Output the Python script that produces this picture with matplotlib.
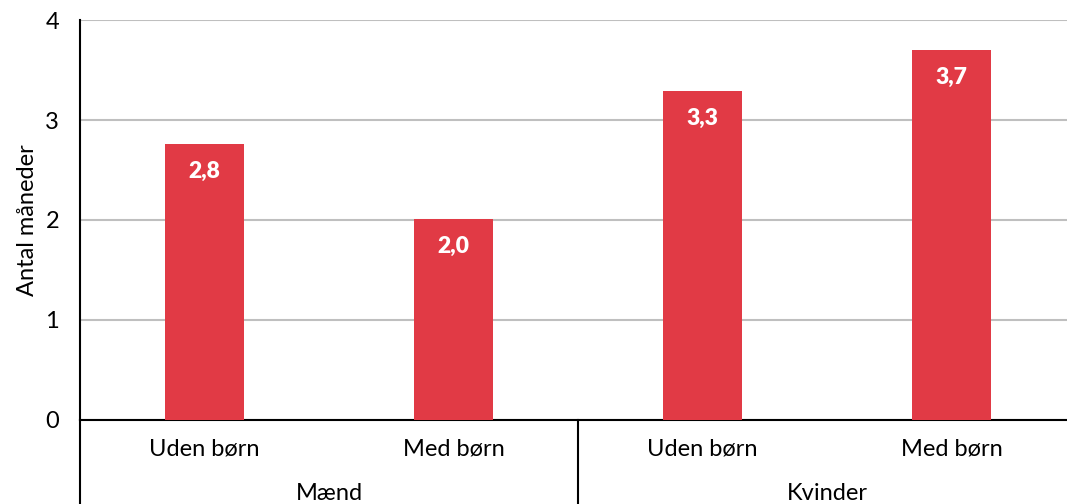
import numpy as np
import matplotlib.pyplot as plt
from matplotlib.transforms import blended_transform_factory

plt.rcParams['font.family'] = ['Lato', 'DejaVu Sans']

# Data
groups = ['Mænd', 'Kvinder']
subcats = ['Uden børn', 'Med børn']
values = np.array([2.76, 2.01, 3.29, 3.70])
value_labels = [f"{v:.1f}".replace('.', ',') for v in values]

bar_color = '#E13A45'
grid_color = '#BFBFBF'

fig = plt.figure(figsize=(10.67, 5.04), dpi=100)
ax = fig.add_axes([80 / 1067, 84 / 504, 987 / 1067, 400 / 504])

x = np.arange(len(values))
ax.bar(x, values, width=0.315, color=bar_color, zorder=3)

for xi, v, lab in zip(x, values, value_labels):
    ax.annotate(lab, (xi, v), xytext=(0, -19.5), textcoords='offset points',
                ha='center', va='center', color='white', fontsize=16.5,
                fontweight='heavy')

ax.set_xlim(-0.5, 3.5 - 9 / 249)
ax.set_ylim(0, 4)
ax.set_yticks([0, 1, 2, 3, 4])
ax.set_yticklabels(['0', '1', '2', '3', '4'], fontsize=17)
ax.tick_params(axis='y', length=0, pad=15)
ax.tick_params(axis='x', length=0, labelbottom=False)
ax.yaxis.grid(True, color=grid_color, linewidth=1.5, zorder=0)

for s in ['top', 'right']:
    ax.spines[s].set_visible(False)
ax.spines['left'].set_linewidth(1.5)
ax.spines['bottom'].set_linewidth(1.5)

ax.set_ylabel('Antal måneder', fontsize=17, labelpad=5)

trans = blended_transform_factory(ax.transData, ax.transAxes)

# category labels
for i, xi in enumerate(x):
    ax.text(xi, -29 / 400, subcats[i % 2], transform=trans, ha='center',
            va='center', fontsize=17)

# group labels
for g, name in enumerate(groups):
    ax.text(g * 2 + 0.5, -73 / 400, name, transform=trans, ha='center',
            va='center', fontsize=17)

# group separators
for sx in [-0.5, 1.5, 3.5]:
    ax.plot([sx, sx], [0, -84 / 400], transform=trans, color='black',
            linewidth=1.5, clip_on=False)

fig.savefig('out.png', dpi=100)
